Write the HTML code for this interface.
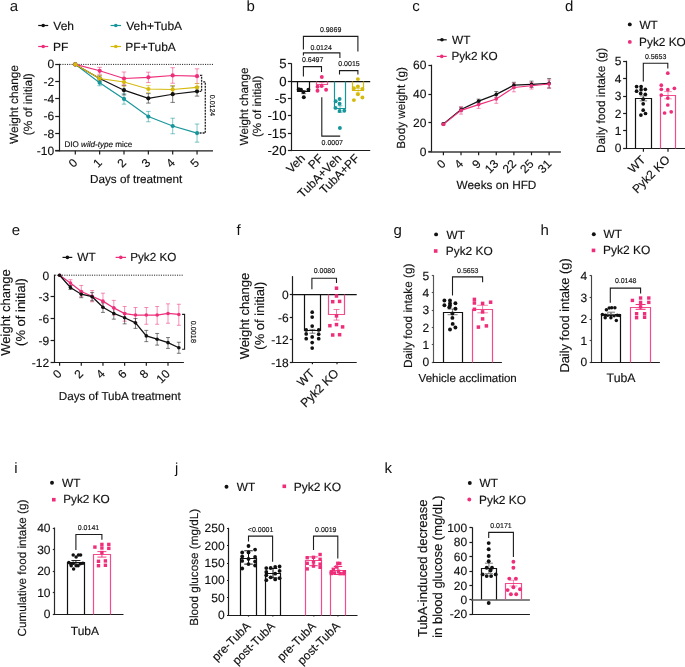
<!DOCTYPE html>
<html><head><meta charset="utf-8"><title>Figure</title>
<style>
html,body{margin:0;padding:0;background:#fff;}
body{width:685px;height:667px;overflow:hidden;}
svg{display:block;font-family:"Liberation Sans",sans-serif;will-change:transform;}
text{stroke:#111;stroke-width:0.15px;text-rendering:geometricPrecision;}
</style></head>
<body>
<svg width="685" height="667" viewBox="0 0 685 667">
<rect x="0" y="0" width="685" height="667" fill="#fff"/>
<text x="9.8" y="10.9" font-size="15" text-anchor="start" fill="#111" style="stroke-width:0">a</text>
<line x1="38.2" y1="25.5" x2="48.2" y2="25.5" stroke="#111" stroke-width="1.2"/>
<circle cx="43.2" cy="25.5" r="1.8" fill="#111"/>
<text x="53.3" y="29.6" font-size="12" text-anchor="start" fill="#111">Veh</text>
<line x1="110.6" y1="25.5" x2="121" y2="25.5" stroke="#16969B" stroke-width="1.2"/>
<circle cx="115.8" cy="25.5" r="1.8" fill="#16969B"/>
<text x="126.2" y="29.6" font-size="12" text-anchor="start" fill="#111">Veh+TubA</text>
<line x1="38.2" y1="46.5" x2="48.2" y2="46.5" stroke="#EE2E7A" stroke-width="1.2"/>
<circle cx="43.2" cy="46.5" r="1.8" fill="#EE2E7A"/>
<text x="53" y="50.8" font-size="12" text-anchor="start" fill="#111">PF</text>
<line x1="110.6" y1="46.5" x2="121" y2="46.5" stroke="#D5BA0B" stroke-width="1.2"/>
<circle cx="115.8" cy="46.5" r="1.8" fill="#D5BA0B"/>
<text x="125.3" y="50.8" font-size="12" text-anchor="start" fill="#111">PF+TubA</text>
<line x1="60.1" y1="64.4" x2="213" y2="64.4" stroke="#222" stroke-width="1.0" stroke-dasharray="1.1 1.2"/>
<line x1="59.5" y1="63.8" x2="59.5" y2="151.4" stroke="#1c1c1c" stroke-width="1.2"/>
<line x1="55.2" y1="64.5" x2="59.5" y2="64.5" stroke="#1c1c1c" stroke-width="1.2"/>
<text x="54.2" y="68.42" font-size="12" text-anchor="end" fill="#111">0</text>
<line x1="55.2" y1="81.5" x2="59.5" y2="81.5" stroke="#1c1c1c" stroke-width="1.2"/>
<text x="54.2" y="85.7" font-size="12" text-anchor="end" fill="#111">-2</text>
<line x1="55.2" y1="98.5" x2="59.5" y2="98.5" stroke="#1c1c1c" stroke-width="1.2"/>
<text x="54.2" y="102.98" font-size="12" text-anchor="end" fill="#111">-4</text>
<line x1="55.2" y1="116.5" x2="59.5" y2="116.5" stroke="#1c1c1c" stroke-width="1.2"/>
<text x="54.2" y="120.26" font-size="12" text-anchor="end" fill="#111">-6</text>
<line x1="55.2" y1="133.5" x2="59.5" y2="133.5" stroke="#1c1c1c" stroke-width="1.2"/>
<text x="54.2" y="137.54" font-size="12" text-anchor="end" fill="#111">-8</text>
<line x1="55.2" y1="150.5" x2="59.5" y2="150.5" stroke="#1c1c1c" stroke-width="1.2"/>
<text x="54.2" y="154.82" font-size="12" text-anchor="end" fill="#111">-10</text>
<line x1="55.3" y1="150.85" x2="213" y2="150.85" stroke="#1c1c1c" stroke-width="1.45"/>
<line x1="75.3" y1="150.85" x2="75.3" y2="154.45" stroke="#1c1c1c" stroke-width="1.2"/>
<line x1="99.65" y1="150.85" x2="99.65" y2="154.45" stroke="#1c1c1c" stroke-width="1.2"/>
<line x1="124" y1="150.85" x2="124" y2="154.45" stroke="#1c1c1c" stroke-width="1.2"/>
<line x1="148.35" y1="150.85" x2="148.35" y2="154.45" stroke="#1c1c1c" stroke-width="1.2"/>
<line x1="172.7" y1="150.85" x2="172.7" y2="154.45" stroke="#1c1c1c" stroke-width="1.2"/>
<line x1="197.05" y1="150.85" x2="197.05" y2="154.45" stroke="#1c1c1c" stroke-width="1.2"/>
<text transform="translate(78.3,163.6) rotate(-45)" font-size="12" text-anchor="end" fill="#111">0</text>
<text transform="translate(102.65,163.6) rotate(-45)" font-size="12" text-anchor="end" fill="#111">1</text>
<text transform="translate(127,163.6) rotate(-45)" font-size="12" text-anchor="end" fill="#111">2</text>
<text transform="translate(151.35,163.6) rotate(-45)" font-size="12" text-anchor="end" fill="#111">3</text>
<text transform="translate(175.7,163.6) rotate(-45)" font-size="12" text-anchor="end" fill="#111">4</text>
<text transform="translate(200.05,163.6) rotate(-45)" font-size="12" text-anchor="end" fill="#111">5</text>
<text x="136.2" y="183.1" font-size="11.7" text-anchor="middle" fill="#111">Days of treatment</text>
<text transform="translate(17.6,104.5) rotate(-90)" font-size="11.85" text-anchor="middle" fill="#111">Weight change</text>
<text transform="translate(31.8,104.2) rotate(-90)" font-size="11.85" text-anchor="middle" fill="#111">(% of initial)</text>
<path d="M99.65 79.69V85.74M97.4 79.69H101.9M97.4 85.74H101.9" stroke="#16969B" stroke-width="0.9" fill="none" stroke-opacity="0.6"/>
<path d="M124 93.78V104.14M121.75 93.78H126.25M121.75 104.14H126.25" stroke="#16969B" stroke-width="0.9" fill="none" stroke-opacity="0.6"/>
<path d="M148.35 111.4V121.77M146.1 111.4H150.6M146.1 121.77H150.6" stroke="#16969B" stroke-width="0.9" fill="none" stroke-opacity="0.6"/>
<path d="M172.7 118.23V133.78M170.45 118.23H174.95M170.45 133.78H174.95" stroke="#16969B" stroke-width="0.9" fill="none" stroke-opacity="0.6"/>
<path d="M197.05 124.02V142.16M194.8 124.02H199.3M194.8 142.16H199.3" stroke="#16969B" stroke-width="0.9" fill="none" stroke-opacity="0.6"/>
<path d="M99.65 75.89V81.08M97.4 75.89H101.9M97.4 81.08H101.9" stroke="#111" stroke-width="0.9" fill="none" stroke-opacity="0.6"/>
<path d="M124 85.4V94.9M121.75 85.4H126.25M121.75 94.9H126.25" stroke="#111" stroke-width="0.9" fill="none" stroke-opacity="0.6"/>
<path d="M148.35 93.6V103.11M146.1 93.6H150.6M146.1 103.11H150.6" stroke="#111" stroke-width="0.9" fill="none" stroke-opacity="0.6"/>
<path d="M172.7 86V102.42M170.45 86H174.95M170.45 102.42H174.95" stroke="#111" stroke-width="0.9" fill="none" stroke-opacity="0.6"/>
<path d="M197.05 86.6V96.11M194.8 86.6H199.3M194.8 96.11H199.3" stroke="#111" stroke-width="0.9" fill="none" stroke-opacity="0.6"/>
<path d="M99.65 67.34V74.25M97.4 67.34H101.9M97.4 74.25H101.9" stroke="#EE2E7A" stroke-width="0.9" fill="none" stroke-opacity="0.6"/>
<path d="M124 72V84.96M121.75 72H126.25M121.75 84.96H126.25" stroke="#EE2E7A" stroke-width="0.9" fill="none" stroke-opacity="0.6"/>
<path d="M148.35 72.18V82.54M146.1 72.18H150.6M146.1 82.54H150.6" stroke="#EE2E7A" stroke-width="0.9" fill="none" stroke-opacity="0.6"/>
<path d="M172.7 67.68V83.24M170.45 67.68H174.95M170.45 83.24H174.95" stroke="#EE2E7A" stroke-width="0.9" fill="none" stroke-opacity="0.6"/>
<path d="M197.05 68.81V83.49M194.8 68.81H199.3M194.8 83.49H199.3" stroke="#EE2E7A" stroke-width="0.9" fill="none" stroke-opacity="0.6"/>
<path d="M99.65 75.46V81.51M97.4 75.46H101.9M97.4 81.51H101.9" stroke="#D5BA0B" stroke-width="0.9" fill="none" stroke-opacity="0.6"/>
<path d="M124 77.71V86.35M121.75 77.71H126.25M121.75 86.35H126.25" stroke="#D5BA0B" stroke-width="0.9" fill="none" stroke-opacity="0.6"/>
<path d="M148.35 85.57V92.48M146.1 85.57H150.6M146.1 92.48H150.6" stroke="#D5BA0B" stroke-width="0.9" fill="none" stroke-opacity="0.6"/>
<path d="M172.7 85.57V93.34M170.45 85.57H174.95M170.45 93.34H174.95" stroke="#D5BA0B" stroke-width="0.9" fill="none" stroke-opacity="0.6"/>
<path d="M197.05 83.49V91.27M194.8 83.49H199.3M194.8 91.27H199.3" stroke="#D5BA0B" stroke-width="0.9" fill="none" stroke-opacity="0.6"/>
<polyline points="75.3,64.4 99.65,82.72 124,98.96 148.35,116.59 172.7,126 197.05,133.09" fill="none" stroke="#16969B" stroke-width="1.15"/>
<circle cx="75.3" cy="64.4" r="2.1" fill="#16969B"/>
<circle cx="99.65" cy="82.72" r="2.1" fill="#16969B"/>
<circle cx="124" cy="98.96" r="2.1" fill="#16969B"/>
<circle cx="148.35" cy="116.59" r="2.1" fill="#16969B"/>
<circle cx="172.7" cy="126" r="2.1" fill="#16969B"/>
<circle cx="197.05" cy="133.09" r="2.1" fill="#16969B"/>
<polyline points="75.3,64.4 99.65,78.48 124,90.15 148.35,98.36 172.7,94.21 197.05,91.36" fill="none" stroke="#111" stroke-width="1.15"/>
<circle cx="75.3" cy="64.4" r="2.1" fill="#111"/>
<circle cx="99.65" cy="78.48" r="2.1" fill="#111"/>
<circle cx="124" cy="90.15" r="2.1" fill="#111"/>
<circle cx="148.35" cy="98.36" r="2.1" fill="#111"/>
<circle cx="172.7" cy="94.21" r="2.1" fill="#111"/>
<circle cx="197.05" cy="91.36" r="2.1" fill="#111"/>
<polyline points="75.3,64.4 99.65,70.79 124,78.48 148.35,77.36 172.7,75.46 197.05,76.15" fill="none" stroke="#EE2E7A" stroke-width="1.15"/>
<circle cx="75.3" cy="64.4" r="2.1" fill="#EE2E7A"/>
<circle cx="99.65" cy="70.79" r="2.1" fill="#EE2E7A"/>
<circle cx="124" cy="78.48" r="2.1" fill="#EE2E7A"/>
<circle cx="148.35" cy="77.36" r="2.1" fill="#EE2E7A"/>
<circle cx="172.7" cy="75.46" r="2.1" fill="#EE2E7A"/>
<circle cx="197.05" cy="76.15" r="2.1" fill="#EE2E7A"/>
<polyline points="75.3,64.4 99.65,78.48 124,82.03 148.35,89.02 172.7,89.46 197.05,87.38" fill="none" stroke="#D5BA0B" stroke-width="1.15"/>
<circle cx="75.3" cy="64.4" r="2.1" fill="#D5BA0B"/>
<circle cx="99.65" cy="78.48" r="2.1" fill="#D5BA0B"/>
<circle cx="124" cy="82.03" r="2.1" fill="#D5BA0B"/>
<circle cx="148.35" cy="89.02" r="2.1" fill="#D5BA0B"/>
<circle cx="172.7" cy="89.46" r="2.1" fill="#D5BA0B"/>
<circle cx="197.05" cy="87.38" r="2.1" fill="#D5BA0B"/>
<polyline points="200,75.3 201.6,75.3 201.6,91.4 199.6,91.4" fill="none" stroke="#222" stroke-width="1.3" stroke-dasharray="2 1"/>
<polyline points="203.2,81.8 205.3,81.8 205.3,133 199.6,133" fill="none" stroke="#222" stroke-width="1.3" stroke-dasharray="2 1"/>
<text transform="translate(209.5,105.5) rotate(90)" font-size="7" text-anchor="middle" fill="#111">0.0124</text>
<text x="64.4" y="146.6" font-size="8.1" fill="#111">DIO <tspan font-style="italic">wild-type</tspan> mice</text>
<text x="246.6" y="10.9" font-size="15" text-anchor="start" fill="#111" style="stroke-width:0">b</text>
<line x1="291.5" y1="63.27" x2="291.5" y2="151.1" stroke="#1c1c1c" stroke-width="1.2"/>
<line x1="287.9" y1="63.5" x2="291.5" y2="63.5" stroke="#1c1c1c" stroke-width="1.2"/>
<text x="286.5" y="68.3" font-size="13.2" text-anchor="end" fill="#111">5</text>
<line x1="287.9" y1="81.5" x2="291.5" y2="81.5" stroke="#1c1c1c" stroke-width="1.2"/>
<text x="286.5" y="85.62" font-size="13.2" text-anchor="end" fill="#111">0</text>
<line x1="287.9" y1="98.5" x2="291.5" y2="98.5" stroke="#1c1c1c" stroke-width="1.2"/>
<text x="286.5" y="102.95" font-size="13.2" text-anchor="end" fill="#111">-5</text>
<line x1="287.9" y1="115.5" x2="291.5" y2="115.5" stroke="#1c1c1c" stroke-width="1.2"/>
<text x="286.5" y="120.27" font-size="13.2" text-anchor="end" fill="#111">-10</text>
<line x1="287.9" y1="133.5" x2="291.5" y2="133.5" stroke="#1c1c1c" stroke-width="1.2"/>
<text x="286.5" y="137.6" font-size="13.2" text-anchor="end" fill="#111">-15</text>
<line x1="287.9" y1="150.5" x2="291.5" y2="150.5" stroke="#1c1c1c" stroke-width="1.2"/>
<text x="286.5" y="154.92" font-size="13.2" text-anchor="end" fill="#111">-20</text>
<line x1="291.5" y1="81.5" x2="370.2" y2="81.5" stroke="#111" stroke-width="1.25"/>
<line x1="290.9" y1="150.5" x2="370.2" y2="150.5" stroke="#1c1c1c" stroke-width="1.2"/>
<path d="M297.5 81.5V91.5H309.5V81.5" fill="none" stroke="#111" stroke-width="1.2" stroke-linejoin="miter"/>
<circle cx="298.8" cy="89.2" r="1.95" fill="#111"/>
<circle cx="303.4" cy="92.1" r="1.95" fill="#111"/>
<circle cx="308.4" cy="89.8" r="1.95" fill="#111"/>
<circle cx="303.8" cy="97.3" r="1.95" fill="#111"/>
<circle cx="301" cy="89.6" r="1.95" fill="#111"/>
<path d="M303.7 90.56V93.67M301.2 90.56H306.2M301.2 93.67H306.2" stroke="#111" stroke-width="0.9" fill="none" stroke-opacity="0.6"/>
<path d="M316.5 81.5V84.5H327.5V81.5" fill="none" stroke="#F24C8C" stroke-width="1.2" stroke-linejoin="miter"/>
<circle cx="321.8" cy="77" r="1.95" fill="#EE2E7A"/>
<circle cx="317.5" cy="86.8" r="1.95" fill="#EE2E7A"/>
<circle cx="317.5" cy="90.8" r="1.95" fill="#EE2E7A"/>
<circle cx="326.1" cy="89.7" r="1.95" fill="#EE2E7A"/>
<circle cx="321.6" cy="86" r="1.95" fill="#EE2E7A"/>
<path d="M321.85 82.59V86.4M319.35 82.59H324.35M319.35 86.4H324.35" stroke="#EE2E7A" stroke-width="0.9" fill="none" stroke-opacity="0.6"/>
<path d="M334.5 81.5V108.5H345.5V81.5" fill="none" stroke="#16969B" stroke-width="1.2" stroke-linejoin="miter"/>
<circle cx="339.6" cy="99" r="1.95" fill="#16969B"/>
<circle cx="335.7" cy="101.3" r="1.95" fill="#16969B"/>
<circle cx="339.6" cy="103.7" r="1.95" fill="#16969B"/>
<circle cx="335.5" cy="107.9" r="1.95" fill="#16969B"/>
<circle cx="339.6" cy="111" r="1.95" fill="#16969B"/>
<circle cx="344.3" cy="110.7" r="1.95" fill="#16969B"/>
<circle cx="339.9" cy="128" r="1.95" fill="#16969B"/>
<path d="M340.05 105.8V112.39M337.55 105.8H342.55M337.55 112.39H342.55" stroke="#16969B" stroke-width="0.9" fill="none" stroke-opacity="0.6"/>
<path d="M352.5 81.5V90.5H363.5V81.5" fill="none" stroke="#D5BA0B" stroke-width="1.2" stroke-linejoin="miter"/>
<circle cx="357.9" cy="79.1" r="1.95" fill="#D5BA0B"/>
<circle cx="357.9" cy="86.4" r="1.95" fill="#D5BA0B"/>
<circle cx="353.9" cy="88.2" r="1.95" fill="#D5BA0B"/>
<circle cx="362.4" cy="88.9" r="1.95" fill="#D5BA0B"/>
<circle cx="357.9" cy="94.2" r="1.95" fill="#D5BA0B"/>
<circle cx="362.4" cy="97.5" r="1.95" fill="#D5BA0B"/>
<circle cx="353.9" cy="100.1" r="1.95" fill="#D5BA0B"/>
<path d="M358.1 88.48V92.98M355.6 88.48H360.6M355.6 92.98H360.6" stroke="#D5BA0B" stroke-width="0.9" fill="none" stroke-opacity="0.6"/>
<polyline points="303.4,49.6 303.4,36.4 357.9,36.4 357.9,51.5" fill="none" stroke="#1c1c1c" stroke-width="1.1"/>
<text x="330.6" y="31.8" font-size="7" text-anchor="middle" fill="#111">0.9869</text>
<polyline points="303.4,55.5 303.4,52.9 339.9,52.9 339.9,58.1" fill="none" stroke="#1c1c1c" stroke-width="1.1"/>
<text x="321.1" y="50.2" font-size="7" text-anchor="middle" fill="#111">0.0124</text>
<polyline points="303.4,76.5 303.4,66.6 321.5,66.6 321.5,71.9" fill="none" stroke="#1c1c1c" stroke-width="1.1"/>
<text x="312.7" y="62" font-size="7" text-anchor="middle" fill="#111">0.6497</text>
<polyline points="339.5,74.5 339.5,70.6 357.9,70.6 357.9,74.5" fill="none" stroke="#1c1c1c" stroke-width="1.1"/>
<text x="349" y="65.7" font-size="7" text-anchor="middle" fill="#111">0.0015</text>
<polyline points="321.8,97.3 321.8,136.1 340.2,136.1" fill="none" stroke="#1c1c1c" stroke-width="1.1"/>
<text x="332.3" y="144.6" font-size="7" text-anchor="middle" fill="#111">0.0007</text>
<text transform="translate(305.8,159) rotate(-45)" font-size="12.0" text-anchor="end" fill="#111">Veh</text>
<text transform="translate(323.95,159) rotate(-45)" font-size="12.0" text-anchor="end" fill="#111">PF</text>
<text transform="translate(342.15,159) rotate(-45)" font-size="12.0" text-anchor="end" fill="#111">TubA+Veh</text>
<text transform="translate(360.2,159) rotate(-45)" font-size="12.0" text-anchor="end" fill="#111">TubA+PF</text>
<text transform="translate(247.9,106.5) rotate(-90)" font-size="11.7" text-anchor="middle" fill="#111">Weight change</text>
<text transform="translate(261,106.5) rotate(-90)" font-size="11.7" text-anchor="middle" fill="#111">(% of initial)</text>
<text x="412.2" y="10.9" font-size="15" text-anchor="start" fill="#111" style="stroke-width:0">c</text>
<line x1="437.2" y1="39.8" x2="446.7" y2="39.8" stroke="#111" stroke-width="1.2"/>
<circle cx="441.95" cy="39.8" r="1.8" fill="#111"/>
<text x="452.1" y="43.8" font-size="11.8" text-anchor="start" fill="#111">WT</text>
<line x1="436.8" y1="56.4" x2="446.7" y2="56.4" stroke="#EE2E7A" stroke-width="1.2"/>
<circle cx="441.75" cy="56.4" r="1.8" fill="#EE2E7A"/>
<text x="451.4" y="60.4" font-size="11.75" text-anchor="start" fill="#111">Pyk2 KO</text>
<line x1="431.5" y1="64.7" x2="431.5" y2="152.3" stroke="#1c1c1c" stroke-width="1.2"/>
<line x1="428.4" y1="65.5" x2="431.5" y2="65.5" stroke="#1c1c1c" stroke-width="1.2"/>
<text x="426.4" y="69.32" font-size="12" text-anchor="end" fill="#111">60</text>
<line x1="428.4" y1="94.5" x2="431.5" y2="94.5" stroke="#1c1c1c" stroke-width="1.2"/>
<text x="426.4" y="98.12" font-size="12" text-anchor="end" fill="#111">40</text>
<line x1="428.4" y1="122.5" x2="431.5" y2="122.5" stroke="#1c1c1c" stroke-width="1.2"/>
<text x="426.4" y="126.92" font-size="12" text-anchor="end" fill="#111">20</text>
<line x1="428.4" y1="151.5" x2="431.5" y2="151.5" stroke="#1c1c1c" stroke-width="1.2"/>
<text x="426.4" y="155.72" font-size="12" text-anchor="end" fill="#111">0</text>
<line x1="428.3" y1="152" x2="560.9" y2="152" stroke="#3a3a3a" stroke-width="1.55"/>
<line x1="443.4" y1="152" x2="443.4" y2="155.3" stroke="#1c1c1c" stroke-width="1.2"/>
<line x1="461.02" y1="152" x2="461.02" y2="155.3" stroke="#1c1c1c" stroke-width="1.2"/>
<line x1="478.64" y1="152" x2="478.64" y2="155.3" stroke="#1c1c1c" stroke-width="1.2"/>
<line x1="496.26" y1="152" x2="496.26" y2="155.3" stroke="#1c1c1c" stroke-width="1.2"/>
<line x1="513.88" y1="152" x2="513.88" y2="155.3" stroke="#1c1c1c" stroke-width="1.2"/>
<line x1="531.5" y1="152" x2="531.5" y2="155.3" stroke="#1c1c1c" stroke-width="1.2"/>
<line x1="549.12" y1="152" x2="549.12" y2="155.3" stroke="#1c1c1c" stroke-width="1.2"/>
<text transform="translate(446.4,164.6) rotate(-45)" font-size="12" text-anchor="end" fill="#111">0</text>
<text transform="translate(464.02,164.6) rotate(-45)" font-size="12" text-anchor="end" fill="#111">4</text>
<text transform="translate(481.64,164.6) rotate(-45)" font-size="12" text-anchor="end" fill="#111">9</text>
<text transform="translate(499.26,164.6) rotate(-45)" font-size="12" text-anchor="end" fill="#111">13</text>
<text transform="translate(516.88,164.6) rotate(-45)" font-size="12" text-anchor="end" fill="#111">22</text>
<text transform="translate(534.5,164.6) rotate(-45)" font-size="12" text-anchor="end" fill="#111">25</text>
<text transform="translate(552.12,164.6) rotate(-45)" font-size="12" text-anchor="end" fill="#111">31</text>
<text x="496.5" y="188.9" font-size="11.8" text-anchor="middle" fill="#111">Weeks on HFD</text>
<text transform="translate(404.8,107.9) rotate(-90)" font-size="11.76" text-anchor="middle" fill="#111">Body weight (g)</text>
<path d="M443.4 123.04V124.77M441.4 123.04H445.4M441.4 124.77H445.4" stroke="#111" stroke-width="0.9" fill="none" stroke-opacity="0.6"/>
<path d="M461.02 107.35V111.67M459.02 107.35H463.02M459.02 111.67H463.02" stroke="#111" stroke-width="0.9" fill="none" stroke-opacity="0.6"/>
<path d="M478.64 99.14V103.17M476.64 99.14H480.64M476.64 103.17H480.64" stroke="#111" stroke-width="0.9" fill="none" stroke-opacity="0.6"/>
<path d="M496.26 91.51V97.27M494.26 91.51H498.26M494.26 97.27H498.26" stroke="#111" stroke-width="0.9" fill="none" stroke-opacity="0.6"/>
<path d="M513.88 82.29V88.05M511.88 82.29H515.88M511.88 88.05H515.88" stroke="#111" stroke-width="0.9" fill="none" stroke-opacity="0.6"/>
<path d="M531.5 81.14V87.48M529.5 81.14H533.5M529.5 87.48H533.5" stroke="#111" stroke-width="0.9" fill="none" stroke-opacity="0.6"/>
<path d="M549.12 78.55V88.05M547.12 78.55H551.12M547.12 88.05H551.12" stroke="#111" stroke-width="0.9" fill="none" stroke-opacity="0.6"/>
<path d="M443.4 123.48V125.2M441.4 123.48H445.4M441.4 125.2H445.4" stroke="#EE2E7A" stroke-width="0.9" fill="none" stroke-opacity="0.6"/>
<path d="M461.02 106.63V114.12M459.02 106.63H463.02M459.02 114.12H463.02" stroke="#EE2E7A" stroke-width="0.9" fill="none" stroke-opacity="0.6"/>
<path d="M478.64 100.87V108.36M476.64 100.87H480.64M476.64 108.36H480.64" stroke="#EE2E7A" stroke-width="0.9" fill="none" stroke-opacity="0.6"/>
<path d="M496.26 94.68V103.32M494.26 94.68H498.26M494.26 103.32H498.26" stroke="#EE2E7A" stroke-width="0.9" fill="none" stroke-opacity="0.6"/>
<path d="M513.88 83.16V91.8M511.88 83.16H515.88M511.88 91.8H515.88" stroke="#EE2E7A" stroke-width="0.9" fill="none" stroke-opacity="0.6"/>
<path d="M531.5 82.44V89.06M529.5 82.44H533.5M529.5 89.06H533.5" stroke="#EE2E7A" stroke-width="0.9" fill="none" stroke-opacity="0.6"/>
<path d="M549.12 79.99V88.05M547.12 79.99H551.12M547.12 88.05H551.12" stroke="#EE2E7A" stroke-width="0.9" fill="none" stroke-opacity="0.6"/>
<polyline points="443.4,123.91 461.02,109.51 478.64,101.16 496.26,94.39 513.88,85.17 531.5,84.31 549.12,83.3" fill="none" stroke="#111" stroke-width="1.2"/>
<circle cx="443.4" cy="123.91" r="1.8" fill="#111"/>
<circle cx="461.02" cy="109.51" r="1.8" fill="#111"/>
<circle cx="478.64" cy="101.16" r="1.8" fill="#111"/>
<circle cx="496.26" cy="94.39" r="1.8" fill="#111"/>
<circle cx="513.88" cy="85.17" r="1.8" fill="#111"/>
<circle cx="531.5" cy="84.31" r="1.8" fill="#111"/>
<circle cx="549.12" cy="83.3" r="1.8" fill="#111"/>
<polyline points="443.4,124.34 461.02,110.37 478.64,104.61 496.26,99 513.88,87.48 531.5,85.75 549.12,84.02" fill="none" stroke="#EE2E7A" stroke-width="1.15"/>
<circle cx="443.4" cy="124.34" r="1.8" fill="#EE2E7A"/>
<circle cx="461.02" cy="110.37" r="1.8" fill="#EE2E7A"/>
<circle cx="478.64" cy="104.61" r="1.8" fill="#EE2E7A"/>
<circle cx="496.26" cy="99" r="1.8" fill="#EE2E7A"/>
<circle cx="513.88" cy="87.48" r="1.8" fill="#EE2E7A"/>
<circle cx="531.5" cy="85.75" r="1.8" fill="#EE2E7A"/>
<circle cx="549.12" cy="84.02" r="1.8" fill="#EE2E7A"/>
<text x="565" y="10.9" font-size="15" text-anchor="start" fill="#111" style="stroke-width:0">d</text>
<circle cx="629.8" cy="24.4" r="1.95" fill="#111"/>
<text x="639.4" y="28.7" font-size="11.8" text-anchor="start" fill="#111">WT</text>
<circle cx="629.8" cy="41.9" r="1.95" fill="#EE2E7A"/>
<text x="639.1" y="45.6" font-size="11.85" text-anchor="start" fill="#111">Pyk2 KO</text>
<line x1="626.5" y1="60.8" x2="626.5" y2="148.8" stroke="#1c1c1c" stroke-width="1.2"/>
<line x1="623.1" y1="61.5" x2="626.5" y2="61.5" stroke="#1c1c1c" stroke-width="1.2"/>
<text x="621.5" y="65.42" font-size="12" text-anchor="end" fill="#111">5</text>
<line x1="623.1" y1="78.5" x2="626.5" y2="78.5" stroke="#1c1c1c" stroke-width="1.2"/>
<text x="621.5" y="82.78" font-size="12" text-anchor="end" fill="#111">4</text>
<line x1="623.1" y1="96.5" x2="626.5" y2="96.5" stroke="#1c1c1c" stroke-width="1.2"/>
<text x="621.5" y="100.14" font-size="12" text-anchor="end" fill="#111">3</text>
<line x1="623.1" y1="113.5" x2="626.5" y2="113.5" stroke="#1c1c1c" stroke-width="1.2"/>
<text x="621.5" y="117.5" font-size="12" text-anchor="end" fill="#111">2</text>
<line x1="623.1" y1="130.5" x2="626.5" y2="130.5" stroke="#1c1c1c" stroke-width="1.2"/>
<text x="621.5" y="134.86" font-size="12" text-anchor="end" fill="#111">1</text>
<line x1="623.1" y1="148.5" x2="626.5" y2="148.5" stroke="#1c1c1c" stroke-width="1.2"/>
<text x="621.5" y="152.22" font-size="12" text-anchor="end" fill="#111">0</text>
<line x1="625.9" y1="148.5" x2="685" y2="148.5" stroke="#1c1c1c" stroke-width="1.2"/>
<line x1="643.4" y1="148.2" x2="643.4" y2="151.7" stroke="#1c1c1c" stroke-width="1.2"/>
<line x1="668" y1="148.2" x2="668" y2="151.7" stroke="#1c1c1c" stroke-width="1.2"/>
<path d="M635.5 148.5V98.5H651.5V148.5" fill="none" stroke="#111" stroke-width="1.2" stroke-linejoin="miter"/>
<path d="M660.5 148.5V95.5H675.5V148.5" fill="none" stroke="#F24C8C" stroke-width="1.2" stroke-linejoin="miter"/>
<circle cx="636.6" cy="86.6" r="1.85" fill="#111"/>
<circle cx="641.1" cy="86.6" r="1.85" fill="#111"/>
<circle cx="636.6" cy="91.2" r="1.85" fill="#111"/>
<circle cx="641.1" cy="89.7" r="1.85" fill="#111"/>
<circle cx="645.3" cy="89.3" r="1.85" fill="#111"/>
<circle cx="640.7" cy="93.4" r="1.85" fill="#111"/>
<circle cx="645.3" cy="94.3" r="1.85" fill="#111"/>
<circle cx="643.2" cy="99.2" r="1.85" fill="#111"/>
<circle cx="643.2" cy="103.8" r="1.85" fill="#111"/>
<circle cx="643.2" cy="110.2" r="1.85" fill="#111"/>
<circle cx="645.5" cy="113.5" r="1.85" fill="#111"/>
<circle cx="640.9" cy="115.1" r="1.85" fill="#111"/>
<circle cx="667.8" cy="73.2" r="1.85" fill="#EE2E7A"/>
<circle cx="661.3" cy="85.2" r="1.85" fill="#EE2E7A"/>
<circle cx="661.3" cy="89.3" r="1.85" fill="#EE2E7A"/>
<circle cx="667.8" cy="89.7" r="1.85" fill="#EE2E7A"/>
<circle cx="674.4" cy="88.3" r="1.85" fill="#EE2E7A"/>
<circle cx="661.3" cy="95.1" r="1.85" fill="#EE2E7A"/>
<circle cx="667.8" cy="98.1" r="1.85" fill="#EE2E7A"/>
<circle cx="667.8" cy="105" r="1.85" fill="#EE2E7A"/>
<circle cx="664.6" cy="113" r="1.85" fill="#EE2E7A"/>
<circle cx="671.2" cy="111.8" r="1.85" fill="#EE2E7A"/>
<path d="M643.4 95.9V100.9M639.65 95.9H647.15M639.65 100.9H647.15" stroke="#111" stroke-width="0.9" fill="none" stroke-opacity="0.6"/>
<path d="M668 91.6V98.8M664.25 91.6H671.75M664.25 98.8H671.75" stroke="#EE2E7A" stroke-width="0.9" fill="none" stroke-opacity="0.6"/>
<polyline points="643.3,81.5 643.3,63.3 667.8,63.3 667.8,68.5" fill="none" stroke="#1c1c1c" stroke-width="1.1"/>
<text x="655.6" y="59.2" font-size="7" text-anchor="middle" fill="#111">0.5653</text>
<text transform="translate(646.2,160.5) rotate(-45)" font-size="12" text-anchor="end" fill="#111">WT</text>
<text transform="translate(670.7,160.5) rotate(-45)" font-size="12" text-anchor="end" fill="#111">Pyk2 KO</text>
<text transform="translate(604.8,100.5) rotate(-90)" font-size="11.83" text-anchor="middle" fill="#111">Daily food intake (g)</text>
<text x="11.8" y="234.6" font-size="15" text-anchor="start" fill="#111" style="stroke-width:0">e</text>
<line x1="62.5" y1="257.4" x2="72.3" y2="257.4" stroke="#111" stroke-width="1.2"/>
<circle cx="67.4" cy="257.4" r="1.8" fill="#111"/>
<text x="77.3" y="260.9" font-size="11.8" text-anchor="start" fill="#111">WT</text>
<line x1="115.6" y1="257.4" x2="126" y2="257.4" stroke="#EE2E7A" stroke-width="1.2"/>
<circle cx="120.8" cy="257.4" r="1.8" fill="#EE2E7A"/>
<text x="130.2" y="260.9" font-size="11.7" text-anchor="start" fill="#111">Pyk2 KO</text>
<line x1="55.1" y1="275.2" x2="183.9" y2="275.2" stroke="#222" stroke-width="1.0" stroke-dasharray="1.1 1.2"/>
<line x1="54.5" y1="274.6" x2="54.5" y2="362.92" stroke="#1c1c1c" stroke-width="1.2"/>
<text x="49.1" y="279.52" font-size="12" text-anchor="end" fill="#111">0</text>
<line x1="50.6" y1="296.5" x2="54.5" y2="296.5" stroke="#1c1c1c" stroke-width="1.2"/>
<text x="49.1" y="301.3" font-size="12" text-anchor="end" fill="#111">-3</text>
<line x1="50.6" y1="318.5" x2="54.5" y2="318.5" stroke="#1c1c1c" stroke-width="1.2"/>
<text x="49.1" y="323.08" font-size="12" text-anchor="end" fill="#111">-6</text>
<line x1="50.6" y1="340.5" x2="54.5" y2="340.5" stroke="#1c1c1c" stroke-width="1.2"/>
<text x="49.1" y="344.86" font-size="12" text-anchor="end" fill="#111">-9</text>
<line x1="50.6" y1="362.5" x2="54.5" y2="362.5" stroke="#1c1c1c" stroke-width="1.2"/>
<text x="49.1" y="366.64" font-size="12" text-anchor="end" fill="#111">-12</text>
<line x1="53.9" y1="362.5" x2="183.9" y2="362.5" stroke="#1c1c1c" stroke-width="1.2"/>
<line x1="59.6" y1="362.32" x2="59.6" y2="365.82" stroke="#1c1c1c" stroke-width="1.2"/>
<line x1="81.28" y1="362.32" x2="81.28" y2="365.82" stroke="#1c1c1c" stroke-width="1.2"/>
<line x1="102.96" y1="362.32" x2="102.96" y2="365.82" stroke="#1c1c1c" stroke-width="1.2"/>
<line x1="124.64" y1="362.32" x2="124.64" y2="365.82" stroke="#1c1c1c" stroke-width="1.2"/>
<line x1="146.32" y1="362.32" x2="146.32" y2="365.82" stroke="#1c1c1c" stroke-width="1.2"/>
<line x1="168" y1="362.32" x2="168" y2="365.82" stroke="#1c1c1c" stroke-width="1.2"/>
<text transform="translate(62.4,374.6) rotate(-45)" font-size="12" text-anchor="end" fill="#111">0</text>
<text transform="translate(84.08,374.6) rotate(-45)" font-size="12" text-anchor="end" fill="#111">2</text>
<text transform="translate(105.76,374.6) rotate(-45)" font-size="12" text-anchor="end" fill="#111">4</text>
<text transform="translate(127.44,374.6) rotate(-45)" font-size="12" text-anchor="end" fill="#111">6</text>
<text transform="translate(149.12,374.6) rotate(-45)" font-size="12" text-anchor="end" fill="#111">8</text>
<text transform="translate(170.8,374.6) rotate(-45)" font-size="12" text-anchor="end" fill="#111">10</text>
<text x="119.8" y="399.9" font-size="11.7" text-anchor="middle" fill="#111">Days of TubA treatment</text>
<text transform="translate(10,312.5) rotate(-90)" font-size="13.0" text-anchor="middle" fill="#111">Weight change</text>
<text transform="translate(25.2,312) rotate(-90)" font-size="13.0" text-anchor="middle" fill="#111">(% of initial)</text>
<path d="M70.44 279.71V285.44M68.44 279.71H72.44M68.44 285.44H72.44" stroke="#EE2E7A" stroke-width="0.9" fill="none" stroke-opacity="0.6"/>
<path d="M81.28 285.44V296.68M79.28 285.44H83.28M79.28 296.68H83.28" stroke="#EE2E7A" stroke-width="0.9" fill="none" stroke-opacity="0.6"/>
<path d="M92.12 290.55V301.79M90.12 290.55H94.12M90.12 301.79H94.12" stroke="#EE2E7A" stroke-width="0.9" fill="none" stroke-opacity="0.6"/>
<path d="M102.96 293.2V307.92M100.96 293.2H104.96M100.96 307.92H104.96" stroke="#EE2E7A" stroke-width="0.9" fill="none" stroke-opacity="0.6"/>
<path d="M113.8 300.36V315.07M111.8 300.36H115.8M111.8 315.07H115.8" stroke="#EE2E7A" stroke-width="0.9" fill="none" stroke-opacity="0.6"/>
<path d="M124.64 306.49V321.2M122.64 306.49H126.64M122.64 321.2H126.64" stroke="#EE2E7A" stroke-width="0.9" fill="none" stroke-opacity="0.6"/>
<path d="M135.48 307.51V323.25M133.48 307.51H137.48M133.48 323.25H137.48" stroke="#EE2E7A" stroke-width="0.9" fill="none" stroke-opacity="0.6"/>
<path d="M146.32 307.51V324.27M144.32 307.51H148.32M144.32 324.27H148.32" stroke="#EE2E7A" stroke-width="0.9" fill="none" stroke-opacity="0.6"/>
<path d="M157.16 306.49V324.27M155.16 306.49H159.16M155.16 324.27H159.16" stroke="#EE2E7A" stroke-width="0.9" fill="none" stroke-opacity="0.6"/>
<path d="M168 303.83V323.25M166 303.83H170M166 323.25H170" stroke="#EE2E7A" stroke-width="0.9" fill="none" stroke-opacity="0.6"/>
<path d="M178.84 304.24V325.29M176.84 304.24H180.84M176.84 325.29H180.84" stroke="#EE2E7A" stroke-width="0.9" fill="none" stroke-opacity="0.6"/>
<path d="M70.44 285.44V289.52M68.44 285.44H72.44M68.44 289.52H72.44" stroke="#111" stroke-width="0.9" fill="none" stroke-opacity="0.6"/>
<path d="M81.28 291.16V297.7M79.28 291.16H83.28M79.28 297.7H83.28" stroke="#111" stroke-width="0.9" fill="none" stroke-opacity="0.6"/>
<path d="M92.12 292.59V300.77M90.12 292.59H94.12M90.12 300.77H94.12" stroke="#111" stroke-width="0.9" fill="none" stroke-opacity="0.6"/>
<path d="M102.96 302.81V312.41M100.96 302.81H104.96M100.96 312.41H104.96" stroke="#111" stroke-width="0.9" fill="none" stroke-opacity="0.6"/>
<path d="M113.8 307.92V319.16M111.8 307.92H115.8M111.8 319.16H115.8" stroke="#111" stroke-width="0.9" fill="none" stroke-opacity="0.6"/>
<path d="M124.64 313.03V323.86M122.64 313.03H126.64M122.64 323.86H126.64" stroke="#111" stroke-width="0.9" fill="none" stroke-opacity="0.6"/>
<path d="M135.48 318.55V328.36M133.48 318.55H137.48M133.48 328.36H137.48" stroke="#111" stroke-width="0.9" fill="none" stroke-opacity="0.6"/>
<path d="M146.32 330.4V341.64M144.32 330.4H148.32M144.32 341.64H148.32" stroke="#111" stroke-width="0.9" fill="none" stroke-opacity="0.6"/>
<path d="M157.16 333.47V345.11M155.16 333.47H159.16M155.16 345.11H159.16" stroke="#111" stroke-width="0.9" fill="none" stroke-opacity="0.6"/>
<path d="M168 337.55V348.38M166 337.55H170M166 348.38H170" stroke="#111" stroke-width="0.9" fill="none" stroke-opacity="0.6"/>
<path d="M178.84 342.25V353.29M176.84 342.25H180.84M176.84 353.29H180.84" stroke="#111" stroke-width="0.9" fill="none" stroke-opacity="0.6"/>
<polyline points="59.6,275.22 70.44,282.98 81.28,291.57 92.12,296.27 102.96,301.17 113.8,307.92 124.64,313.64 135.48,315.07 146.32,315.07 157.16,315.07 168,313.44 178.84,314.46" fill="none" stroke="#EE2E7A" stroke-width="1.25"/>
<circle cx="59.6" cy="275.22" r="1.8" fill="#EE2E7A"/>
<circle cx="70.44" cy="282.98" r="1.8" fill="#EE2E7A"/>
<circle cx="81.28" cy="291.57" r="1.8" fill="#EE2E7A"/>
<circle cx="92.12" cy="296.27" r="1.8" fill="#EE2E7A"/>
<circle cx="102.96" cy="301.17" r="1.8" fill="#EE2E7A"/>
<circle cx="113.8" cy="307.92" r="1.8" fill="#EE2E7A"/>
<circle cx="124.64" cy="313.64" r="1.8" fill="#EE2E7A"/>
<circle cx="135.48" cy="315.07" r="1.8" fill="#EE2E7A"/>
<circle cx="146.32" cy="315.07" r="1.8" fill="#EE2E7A"/>
<circle cx="157.16" cy="315.07" r="1.8" fill="#EE2E7A"/>
<circle cx="168" cy="313.44" r="1.8" fill="#EE2E7A"/>
<circle cx="178.84" cy="314.46" r="1.8" fill="#EE2E7A"/>
<polyline points="59.6,275.22 70.44,287.48 81.28,294.23 92.12,296.68 102.96,307.31 113.8,313.44 124.64,317.73 135.48,322.84 146.32,335.92 157.16,339.19 168,342.66 178.84,347.77" fill="none" stroke="#111" stroke-width="1.25"/>
<circle cx="59.6" cy="275.22" r="1.8" fill="#111"/>
<circle cx="70.44" cy="287.48" r="1.8" fill="#111"/>
<circle cx="81.28" cy="294.23" r="1.8" fill="#111"/>
<circle cx="92.12" cy="296.68" r="1.8" fill="#111"/>
<circle cx="102.96" cy="307.31" r="1.8" fill="#111"/>
<circle cx="113.8" cy="313.44" r="1.8" fill="#111"/>
<circle cx="124.64" cy="317.73" r="1.8" fill="#111"/>
<circle cx="135.48" cy="322.84" r="1.8" fill="#111"/>
<circle cx="146.32" cy="335.92" r="1.8" fill="#111"/>
<circle cx="157.16" cy="339.19" r="1.8" fill="#111"/>
<circle cx="168" cy="342.66" r="1.8" fill="#111"/>
<circle cx="178.84" cy="347.77" r="1.8" fill="#111"/>
<polyline points="182.1,314.4 184.6,314.4 184.6,349.2 182.1,349.2" fill="none" stroke="#1c1c1c" stroke-width="1.1"/>
<text transform="translate(190.6,331.8) rotate(90)" font-size="7.3" text-anchor="middle" fill="#111">0.0018</text>
<text x="236.4" y="234.6" font-size="15" text-anchor="start" fill="#111" style="stroke-width:0">f</text>
<line x1="292.5" y1="276.1" x2="292.5" y2="362.98" stroke="#1c1c1c" stroke-width="1.2"/>
<line x1="289.8" y1="294.5" x2="292.5" y2="294.5" stroke="#1c1c1c" stroke-width="1.2"/>
<text x="288.7" y="299" font-size="12" text-anchor="end" fill="#111">0</text>
<line x1="289.8" y1="317.5" x2="292.5" y2="317.5" stroke="#1c1c1c" stroke-width="1.2"/>
<text x="288.7" y="321.56" font-size="12" text-anchor="end" fill="#111">-6</text>
<line x1="289.8" y1="339.5" x2="292.5" y2="339.5" stroke="#1c1c1c" stroke-width="1.2"/>
<text x="288.7" y="344.12" font-size="12" text-anchor="end" fill="#111">-12</text>
<line x1="289.8" y1="362.5" x2="292.5" y2="362.5" stroke="#1c1c1c" stroke-width="1.2"/>
<text x="288.7" y="366.68" font-size="12" text-anchor="end" fill="#111">-18</text>
<line x1="292.5" y1="294.5" x2="356.7" y2="294.5" stroke="#111" stroke-width="1.25"/>
<line x1="291.9" y1="362.5" x2="356.7" y2="362.5" stroke="#1c1c1c" stroke-width="1.2"/>
<line x1="312.4" y1="362.38" x2="312.4" y2="364.18" stroke="#1c1c1c" stroke-width="1.2"/>
<line x1="337" y1="362.38" x2="337" y2="364.18" stroke="#1c1c1c" stroke-width="1.2"/>
<path d="M304.5 294.5V330.5H320.5V294.5" fill="none" stroke="#111" stroke-width="1.2" stroke-linejoin="miter"/>
<path d="M328.5 294.5V314.5H344.5V294.5" fill="none" stroke="#F24C8C" stroke-width="1.2" stroke-linejoin="miter"/>
<circle cx="312.2" cy="312.2" r="1.85" fill="#111"/>
<circle cx="312.2" cy="317.1" r="1.85" fill="#111"/>
<circle cx="312.2" cy="326.1" r="1.85" fill="#111"/>
<circle cx="306.2" cy="329.9" r="1.85" fill="#111"/>
<circle cx="318.7" cy="329.9" r="1.85" fill="#111"/>
<circle cx="306.2" cy="333.9" r="1.85" fill="#111"/>
<circle cx="318.7" cy="334.2" r="1.85" fill="#111"/>
<circle cx="306.2" cy="338.7" r="1.85" fill="#111"/>
<circle cx="312.2" cy="336.9" r="1.85" fill="#111"/>
<circle cx="318.7" cy="338.7" r="1.85" fill="#111"/>
<circle cx="312.2" cy="342.6" r="1.85" fill="#111"/>
<circle cx="312.2" cy="348.1" r="1.85" fill="#111"/>
<rect x="334.75" y="286.45" width="3.5" height="3.5" fill="#EE2E7A"/>
<rect x="334.75" y="294.25" width="3.5" height="3.5" fill="#EE2E7A"/>
<rect x="330.95" y="299.95" width="3.5" height="3.5" fill="#EE2E7A"/>
<rect x="337.85" y="299.65" width="3.5" height="3.5" fill="#EE2E7A"/>
<rect x="334.75" y="314.15" width="3.5" height="3.5" fill="#EE2E7A"/>
<rect x="328.15" y="323.95" width="3.5" height="3.5" fill="#EE2E7A"/>
<rect x="334.75" y="322.85" width="3.5" height="3.5" fill="#EE2E7A"/>
<rect x="340.85" y="325.15" width="3.5" height="3.5" fill="#EE2E7A"/>
<rect x="330.95" y="333.25" width="3.5" height="3.5" fill="#EE2E7A"/>
<rect x="337.85" y="332.95" width="3.5" height="3.5" fill="#EE2E7A"/>
<path d="M312.4 329.4V333.2M309.4 329.4H315.4M309.4 333.2H315.4" stroke="#111" stroke-width="0.9" fill="none" stroke-opacity="0.6"/>
<path d="M336.5 309.5V320.1M333.5 309.5H339.5M333.5 320.1H339.5" stroke="#EE2E7A" stroke-width="0.9" fill="none" stroke-opacity="0.7"/>
<polyline points="311.9,289.3 311.9,278.2 336.5,278.2 336.5,283" fill="none" stroke="#1c1c1c" stroke-width="1.1"/>
<text x="324.4" y="273.2" font-size="7" text-anchor="middle" fill="#111">0.0080</text>
<text transform="translate(315.2,374) rotate(-45)" font-size="12.1" text-anchor="end" fill="#111">WT</text>
<text transform="translate(339.5,374) rotate(-45)" font-size="12.2" text-anchor="end" fill="#111">Pyk2 KO</text>
<text transform="translate(249.1,316) rotate(-90)" font-size="13.0" text-anchor="middle" fill="#111">Weight change</text>
<text transform="translate(264.4,315.7) rotate(-90)" font-size="13.0" text-anchor="middle" fill="#111">(% of initial)</text>
<text x="393.6" y="234.8" font-size="15" text-anchor="start" fill="#111" style="stroke-width:0">g</text>
<circle cx="436.1" cy="234.4" r="1.95" fill="#111"/>
<text x="446.5" y="238.5" font-size="11.8" text-anchor="start" fill="#111">WT</text>
<rect x="433.9" y="249.2" width="3.6" height="3.6" fill="#EE2E7A"/>
<text x="445.8" y="254.8" font-size="11.9" text-anchor="start" fill="#111">Pyk2 KO</text>
<line x1="433.5" y1="275.1" x2="433.5" y2="362.8" stroke="#555" stroke-width="1.15"/>
<line x1="431.8" y1="275.5" x2="433.5" y2="275.5" stroke="#555" stroke-width="1.15"/>
<text x="429.2" y="279.72" font-size="12" text-anchor="end" fill="#111">5</text>
<line x1="431.8" y1="292.5" x2="433.5" y2="292.5" stroke="#555" stroke-width="1.15"/>
<text x="429.2" y="297.02" font-size="12" text-anchor="end" fill="#111">4</text>
<line x1="431.8" y1="310.5" x2="433.5" y2="310.5" stroke="#555" stroke-width="1.15"/>
<text x="429.2" y="314.32" font-size="12" text-anchor="end" fill="#111">3</text>
<line x1="431.8" y1="327.5" x2="433.5" y2="327.5" stroke="#555" stroke-width="1.15"/>
<text x="429.2" y="331.62" font-size="12" text-anchor="end" fill="#111">2</text>
<line x1="431.8" y1="344.5" x2="433.5" y2="344.5" stroke="#555" stroke-width="1.15"/>
<text x="429.2" y="348.92" font-size="12" text-anchor="end" fill="#111">1</text>
<line x1="431.8" y1="362.5" x2="433.5" y2="362.5" stroke="#555" stroke-width="1.15"/>
<text x="429.2" y="366.22" font-size="12" text-anchor="end" fill="#111">0</text>
<line x1="432.9" y1="362.5" x2="501.9" y2="362.5" stroke="#1c1c1c" stroke-width="1.2"/>
<path d="M443.5 362.5V312.5H462.5V362.5" fill="none" stroke="#111" stroke-width="1.2" stroke-linejoin="miter"/>
<path d="M472.5 362.5V309.5H492.5V362.5" fill="none" stroke="#F24C8C" stroke-width="1.2" stroke-linejoin="miter"/>
<circle cx="444.4" cy="300.5" r="1.95" fill="#111"/>
<circle cx="450" cy="300.5" r="1.95" fill="#111"/>
<circle cx="444.4" cy="305.3" r="1.95" fill="#111"/>
<circle cx="450" cy="303.4" r="1.95" fill="#111"/>
<circle cx="450" cy="305.6" r="1.95" fill="#111"/>
<circle cx="455.4" cy="303.3" r="1.95" fill="#111"/>
<circle cx="449.3" cy="307.3" r="1.95" fill="#111"/>
<circle cx="455.4" cy="308.7" r="1.95" fill="#111"/>
<circle cx="452.4" cy="313.5" r="1.95" fill="#111"/>
<circle cx="452.4" cy="317.9" r="1.95" fill="#111"/>
<circle cx="452.7" cy="323.9" r="1.95" fill="#111"/>
<circle cx="455.4" cy="327.5" r="1.95" fill="#111"/>
<circle cx="450" cy="329.5" r="1.95" fill="#111"/>
<rect x="472.65" y="297.65" width="3.5" height="3.5" fill="#EE2E7A"/>
<rect x="472.65" y="301.25" width="3.5" height="3.5" fill="#EE2E7A"/>
<rect x="480.85" y="301.65" width="3.5" height="3.5" fill="#EE2E7A"/>
<rect x="488.85" y="300.45" width="3.5" height="3.5" fill="#EE2E7A"/>
<rect x="472.65" y="307.55" width="3.5" height="3.5" fill="#EE2E7A"/>
<rect x="480.85" y="310.15" width="3.5" height="3.5" fill="#EE2E7A"/>
<rect x="480.85" y="317.15" width="3.5" height="3.5" fill="#EE2E7A"/>
<rect x="476.65" y="325.35" width="3.5" height="3.5" fill="#EE2E7A"/>
<rect x="484.65" y="324.15" width="3.5" height="3.5" fill="#EE2E7A"/>
<path d="M452.6 309V314.7M447.6 309H457.6M447.6 314.7H457.6" stroke="#111" stroke-width="1.0" fill="none" stroke-opacity="0.55"/>
<path d="M482.6 305.3V312.8M477.35 305.3H487.85M477.35 312.8H487.85" stroke="#EE2E7A" stroke-width="1.0" fill="none" stroke-opacity="0.6"/>
<polyline points="452.5,295.5 452.5,276.9 482.6,276.9 482.6,282.3" fill="none" stroke="#1c1c1c" stroke-width="1.1"/>
<text x="467.8" y="272.5" font-size="7" text-anchor="middle" fill="#111">0.5653</text>
<text x="418.6" y="381.8" font-size="11.55" text-anchor="start" fill="#111">Vehicle acclimation</text>
<text transform="translate(412.3,315.85) rotate(-90)" font-size="11.76" text-anchor="middle" fill="#111">Daily food intake (g)</text>
<text x="540.4" y="234.8" font-size="15" text-anchor="start" fill="#111" style="stroke-width:0">h</text>
<circle cx="593.8" cy="234.2" r="1.95" fill="#111"/>
<text x="603.6" y="238.1" font-size="11.8" text-anchor="start" fill="#111">WT</text>
<rect x="591.7" y="248.6" width="3.6" height="3.6" fill="#EE2E7A"/>
<text x="603.1" y="254.3" font-size="12" text-anchor="start" fill="#111">Pyk2 KO</text>
<line x1="591.5" y1="275.3" x2="591.5" y2="362.9" stroke="#444" stroke-width="1.15"/>
<line x1="589.6" y1="275.5" x2="591.5" y2="275.5" stroke="#444" stroke-width="1.15"/>
<text x="587.2" y="279.92" font-size="12" text-anchor="end" fill="#111">4</text>
<line x1="589.6" y1="297.5" x2="591.5" y2="297.5" stroke="#444" stroke-width="1.15"/>
<text x="587.2" y="301.52" font-size="12" text-anchor="end" fill="#111">3</text>
<line x1="589.6" y1="319.5" x2="591.5" y2="319.5" stroke="#444" stroke-width="1.15"/>
<text x="587.2" y="323.12" font-size="12" text-anchor="end" fill="#111">2</text>
<line x1="589.6" y1="340.5" x2="591.5" y2="340.5" stroke="#444" stroke-width="1.15"/>
<text x="587.2" y="344.72" font-size="12" text-anchor="end" fill="#111">1</text>
<line x1="589.6" y1="362.5" x2="591.5" y2="362.5" stroke="#444" stroke-width="1.15"/>
<text x="587.2" y="366.32" font-size="12" text-anchor="end" fill="#111">0</text>
<line x1="590.9" y1="362.5" x2="659.9" y2="362.5" stroke="#1c1c1c" stroke-width="1.2"/>
<path d="M601.5 362.5V314.5H620.5V362.5" fill="none" stroke="#111" stroke-width="1.2" stroke-linejoin="miter"/>
<path d="M630.5 362.5V307.5H650.5V362.5" fill="none" stroke="#F24C8C" stroke-width="1.2" stroke-linejoin="miter"/>
<circle cx="606.4" cy="309.7" r="1.75" fill="#111"/>
<circle cx="609.2" cy="308.1" r="1.75" fill="#111"/>
<circle cx="611.7" cy="307.8" r="1.75" fill="#111"/>
<circle cx="614.9" cy="307.7" r="1.75" fill="#111"/>
<circle cx="602.4" cy="314.5" r="1.75" fill="#111"/>
<circle cx="605.2" cy="315.3" r="1.75" fill="#111"/>
<circle cx="607.6" cy="315.3" r="1.75" fill="#111"/>
<circle cx="610.9" cy="315.3" r="1.75" fill="#111"/>
<circle cx="614.1" cy="315.7" r="1.75" fill="#111"/>
<circle cx="617.3" cy="315.3" r="1.75" fill="#111"/>
<circle cx="619.3" cy="315.5" r="1.75" fill="#111"/>
<circle cx="605.2" cy="317.7" r="1.75" fill="#111"/>
<circle cx="610.9" cy="317.7" r="1.75" fill="#111"/>
<circle cx="616.3" cy="320.4" r="1.75" fill="#111"/>
<rect x="630.7" y="298.7" width="3.4" height="3.4" fill="#EE2E7A"/>
<rect x="638.9" y="296.3" width="3.4" height="3.4" fill="#EE2E7A"/>
<rect x="647.1" y="296.3" width="3.4" height="3.4" fill="#EE2E7A"/>
<rect x="638.9" y="300.7" width="3.4" height="3.4" fill="#EE2E7A"/>
<rect x="647.1" y="300.7" width="3.4" height="3.4" fill="#EE2E7A"/>
<rect x="638.9" y="305.2" width="3.4" height="3.4" fill="#EE2E7A"/>
<rect x="634.9" y="312" width="3.4" height="3.4" fill="#EE2E7A"/>
<rect x="642.9" y="312" width="3.4" height="3.4" fill="#EE2E7A"/>
<rect x="634.9" y="316" width="3.4" height="3.4" fill="#EE2E7A"/>
<rect x="642.9" y="315.6" width="3.4" height="3.4" fill="#EE2E7A"/>
<path d="M611 312.2V314.4M607 312.2H615M607 314.4H615" stroke="#666" stroke-width="0.9" fill="none"/>
<path d="M640.6 304.5V309.3M635.6 304.5H645.6M635.6 309.3H645.6" stroke="#EE2E7A" stroke-width="1.0" fill="none"/>
<polyline points="610.3,302.7 610.3,288.1 640.6,288.1 640.6,293.4" fill="none" stroke="#1c1c1c" stroke-width="1.1"/>
<text x="625.6" y="283.3" font-size="7" text-anchor="middle" fill="#111">0.0148</text>
<text x="606.6" y="381.8" font-size="12.3" text-anchor="start" fill="#111">TubA</text>
<text transform="translate(569.2,315.4) rotate(-90)" font-size="12.87" text-anchor="middle" fill="#111">Daily food intake (g)</text>
<text x="14.2" y="472.6" font-size="15" text-anchor="start" fill="#111" style="stroke-width:0">i</text>
<circle cx="52" cy="482.7" r="1.95" fill="#111"/>
<text x="62" y="486.6" font-size="11.8" text-anchor="start" fill="#111">WT</text>
<rect x="52" y="497.9" width="3.6" height="3.6" fill="#EE2E7A"/>
<text x="63.2" y="503.3" font-size="11.8" text-anchor="start" fill="#111">Pyk2 KO</text>
<line x1="54.5" y1="527.52" x2="54.5" y2="615" stroke="#2a2a2a" stroke-width="1.2"/>
<line x1="52.8" y1="528.5" x2="54.5" y2="528.5" stroke="#2a2a2a" stroke-width="1.2"/>
<text x="50.5" y="532.14" font-size="12" text-anchor="end" fill="#111">40</text>
<line x1="52.8" y1="549.5" x2="54.5" y2="549.5" stroke="#2a2a2a" stroke-width="1.2"/>
<text x="50.5" y="553.71" font-size="12" text-anchor="end" fill="#111">30</text>
<line x1="52.8" y1="571.5" x2="54.5" y2="571.5" stroke="#2a2a2a" stroke-width="1.2"/>
<text x="50.5" y="575.28" font-size="12" text-anchor="end" fill="#111">20</text>
<line x1="52.8" y1="592.5" x2="54.5" y2="592.5" stroke="#2a2a2a" stroke-width="1.2"/>
<text x="50.5" y="596.85" font-size="12" text-anchor="end" fill="#111">10</text>
<line x1="52.8" y1="614.5" x2="54.5" y2="614.5" stroke="#2a2a2a" stroke-width="1.2"/>
<text x="50.5" y="618.42" font-size="12" text-anchor="end" fill="#111">0</text>
<line x1="53.9" y1="614.5" x2="123.5" y2="614.5" stroke="#1c1c1c" stroke-width="1.2"/>
<path d="M67.5 614.5V562.5H84.5V614.5" fill="none" stroke="#111" stroke-width="1.2" stroke-linejoin="miter"/>
<path d="M93.5 614.5V554.5H110.5V614.5" fill="none" stroke="#F24C8C" stroke-width="1.2" stroke-linejoin="miter"/>
<circle cx="73.2" cy="555.1" r="1.75" fill="#111"/>
<circle cx="76.1" cy="556.9" r="1.75" fill="#111"/>
<circle cx="78.5" cy="554.9" r="1.75" fill="#111"/>
<circle cx="80.6" cy="554.9" r="1.75" fill="#111"/>
<circle cx="68.8" cy="562.5" r="1.75" fill="#111"/>
<circle cx="70.8" cy="564.1" r="1.75" fill="#111"/>
<circle cx="73.2" cy="563.3" r="1.75" fill="#111"/>
<circle cx="78.1" cy="565.7" r="1.75" fill="#111"/>
<circle cx="80.5" cy="563.7" r="1.75" fill="#111"/>
<circle cx="82.9" cy="563.3" r="1.75" fill="#111"/>
<circle cx="71.2" cy="565.7" r="1.75" fill="#111"/>
<circle cx="73.6" cy="568.9" r="1.75" fill="#111"/>
<circle cx="76.1" cy="565.7" r="1.75" fill="#111"/>
<rect x="93.2" y="545.4" width="3.4" height="3.4" fill="#EE2E7A"/>
<rect x="100.2" y="542.7" width="3.4" height="3.4" fill="#EE2E7A"/>
<rect x="107.1" y="542.7" width="3.4" height="3.4" fill="#EE2E7A"/>
<rect x="100.2" y="546.3" width="3.4" height="3.4" fill="#EE2E7A"/>
<rect x="107.1" y="546.7" width="3.4" height="3.4" fill="#EE2E7A"/>
<rect x="100.2" y="550.8" width="3.4" height="3.4" fill="#EE2E7A"/>
<rect x="96.8" y="559.6" width="3.4" height="3.4" fill="#EE2E7A"/>
<rect x="103.7" y="559.2" width="3.4" height="3.4" fill="#EE2E7A"/>
<rect x="96.8" y="564" width="3.4" height="3.4" fill="#EE2E7A"/>
<rect x="103.7" y="563.6" width="3.4" height="3.4" fill="#EE2E7A"/>
<path d="M75.9 560.5V564.1M71.4 560.5H80.4M71.4 564.1H80.4" stroke="#111" stroke-width="0.9" fill="none"/>
<path d="M101.9 551.6V557.1M97.4 551.6H106.4M97.4 557.1H106.4" stroke="#EE2E7A" stroke-width="0.9" fill="none"/>
<polyline points="75.9,550 75.9,534.5 101.9,534.5 101.9,539.8" fill="none" stroke="#1c1c1c" stroke-width="1.1"/>
<text x="88.5" y="529.8" font-size="7" text-anchor="middle" fill="#111">0.0141</text>
<text x="70.8" y="635.1" font-size="12.0" text-anchor="start" fill="#111">TubA</text>
<text transform="translate(26.3,568.1) rotate(-90)" font-size="11.74" text-anchor="middle" fill="#111">Cumulative food intake (g)</text>
<text x="174.9" y="473.2" font-size="14.5" text-anchor="start" fill="#111" style="stroke-width:0">j</text>
<circle cx="226.5" cy="486.8" r="1.95" fill="#111"/>
<text x="236.8" y="491.3" font-size="11.8" text-anchor="start" fill="#111">WT</text>
<rect x="282.5" y="484.5" width="3.6" height="3.6" fill="#EE2E7A"/>
<text x="293.8" y="490.8" font-size="12" text-anchor="start" fill="#111">Pyk2 KO</text>
<line x1="228.5" y1="527.8" x2="228.5" y2="615.7" stroke="#1c1c1c" stroke-width="1.2"/>
<line x1="227" y1="528.5" x2="228.5" y2="528.5" stroke="#1c1c1c" stroke-width="1.2"/>
<text x="224.6" y="532.42" font-size="12" text-anchor="end" fill="#111">250</text>
<line x1="227" y1="545.5" x2="228.5" y2="545.5" stroke="#1c1c1c" stroke-width="1.2"/>
<text x="224.6" y="549.76" font-size="12" text-anchor="end" fill="#111">200</text>
<line x1="227" y1="563.5" x2="228.5" y2="563.5" stroke="#1c1c1c" stroke-width="1.2"/>
<text x="224.6" y="567.1" font-size="12" text-anchor="end" fill="#111">150</text>
<line x1="227" y1="580.5" x2="228.5" y2="580.5" stroke="#1c1c1c" stroke-width="1.2"/>
<text x="224.6" y="584.44" font-size="12" text-anchor="end" fill="#111">100</text>
<line x1="227" y1="597.5" x2="228.5" y2="597.5" stroke="#1c1c1c" stroke-width="1.2"/>
<text x="224.6" y="601.78" font-size="12" text-anchor="end" fill="#111">50</text>
<line x1="227" y1="615.5" x2="228.5" y2="615.5" stroke="#1c1c1c" stroke-width="1.2"/>
<text x="224.6" y="619.12" font-size="12" text-anchor="end" fill="#111">0</text>
<line x1="227.9" y1="615.5" x2="357.5" y2="615.5" stroke="#1c1c1c" stroke-width="1.2"/>
<line x1="248.5" y1="615.1" x2="248.5" y2="616.6" stroke="#1c1c1c" stroke-width="1.2"/>
<line x1="272.8" y1="615.1" x2="272.8" y2="616.6" stroke="#1c1c1c" stroke-width="1.2"/>
<line x1="313.8" y1="615.1" x2="313.8" y2="616.6" stroke="#1c1c1c" stroke-width="1.2"/>
<line x1="337.9" y1="615.1" x2="337.9" y2="616.6" stroke="#1c1c1c" stroke-width="1.2"/>
<path d="M240.5 615.5V558.5H256.5V615.5" fill="none" stroke="#111" stroke-width="1.2" stroke-linejoin="miter"/>
<path d="M265.5 615.5V573.5H280.5V615.5" fill="none" stroke="#111" stroke-width="1.2" stroke-linejoin="miter"/>
<path d="M305.5 615.5V560.5H321.5V615.5" fill="none" stroke="#F24C8C" stroke-width="1.2" stroke-linejoin="miter"/>
<path d="M330.5 615.5V570.5H345.5V615.5" fill="none" stroke="#F24C8C" stroke-width="1.2" stroke-linejoin="miter"/>
<circle cx="248.5" cy="546" r="1.9" fill="#111"/>
<circle cx="255.1" cy="549.6" r="1.9" fill="#111"/>
<circle cx="242.2" cy="552.4" r="1.9" fill="#111"/>
<circle cx="248.5" cy="552.4" r="1.9" fill="#111"/>
<circle cx="242.2" cy="556.5" r="1.9" fill="#111"/>
<circle cx="255.1" cy="556.9" r="1.9" fill="#111"/>
<circle cx="242.2" cy="560.9" r="1.9" fill="#111"/>
<circle cx="255.1" cy="561.5" r="1.9" fill="#111"/>
<circle cx="248.5" cy="564.1" r="1.9" fill="#111"/>
<circle cx="255.1" cy="565.5" r="1.9" fill="#111"/>
<circle cx="242.2" cy="568.5" r="1.9" fill="#111"/>
<circle cx="248.5" cy="558.9" r="1.9" fill="#111"/>
<circle cx="266.3" cy="568.1" r="1.9" fill="#111"/>
<circle cx="270.7" cy="568" r="1.9" fill="#111"/>
<circle cx="275.2" cy="566.9" r="1.9" fill="#111"/>
<circle cx="279.6" cy="566.5" r="1.9" fill="#111"/>
<circle cx="279.6" cy="570.9" r="1.9" fill="#111"/>
<circle cx="266.3" cy="572" r="1.9" fill="#111"/>
<circle cx="266.3" cy="575.3" r="1.9" fill="#111"/>
<circle cx="275.2" cy="573.7" r="1.9" fill="#111"/>
<circle cx="270.7" cy="577.3" r="1.9" fill="#111"/>
<circle cx="279.6" cy="578.2" r="1.9" fill="#111"/>
<circle cx="266.3" cy="580.2" r="1.9" fill="#111"/>
<circle cx="275.2" cy="579.4" r="1.9" fill="#111"/>
<rect x="305.5" y="556" width="3.4" height="3.4" fill="#EE2E7A"/>
<rect x="311.8" y="555.6" width="3.4" height="3.4" fill="#EE2E7A"/>
<rect x="318.4" y="552.8" width="3.4" height="3.4" fill="#EE2E7A"/>
<rect x="318.4" y="557.6" width="3.4" height="3.4" fill="#EE2E7A"/>
<rect x="305.5" y="561.6" width="3.4" height="3.4" fill="#EE2E7A"/>
<rect x="311.8" y="560.4" width="3.4" height="3.4" fill="#EE2E7A"/>
<rect x="318.4" y="562.4" width="3.4" height="3.4" fill="#EE2E7A"/>
<rect x="318.4" y="565.6" width="3.4" height="3.4" fill="#EE2E7A"/>
<rect x="311.8" y="564.4" width="3.4" height="3.4" fill="#EE2E7A"/>
<rect x="305.5" y="567.2" width="3.4" height="3.4" fill="#EE2E7A"/>
<rect x="336.1" y="561.6" width="3.4" height="3.4" fill="#EE2E7A"/>
<rect x="338.1" y="561.8" width="3.4" height="3.4" fill="#EE2E7A"/>
<rect x="331.6" y="567.6" width="3.4" height="3.4" fill="#EE2E7A"/>
<rect x="329.6" y="570.4" width="3.4" height="3.4" fill="#EE2E7A"/>
<rect x="336.9" y="569.6" width="3.4" height="3.4" fill="#EE2E7A"/>
<rect x="342.5" y="570" width="3.4" height="3.4" fill="#EE2E7A"/>
<rect x="332.8" y="571.2" width="3.4" height="3.4" fill="#EE2E7A"/>
<rect x="338.5" y="572" width="3.4" height="3.4" fill="#EE2E7A"/>
<rect x="342.1" y="572" width="3.4" height="3.4" fill="#EE2E7A"/>
<rect x="329.6" y="571.8" width="3.4" height="3.4" fill="#EE2E7A"/>
<rect x="334.8" y="565.3" width="3.4" height="3.4" fill="#EE2E7A"/>
<path d="M248.5 550.8V564.1M244.25 550.8H252.75M244.25 564.1H252.75" stroke="#111" stroke-width="1.0" fill="none"/>
<path d="M273 568.5V577.8M268.75 568.5H277.25M268.75 577.8H277.25" stroke="#111" stroke-width="1.0" fill="none"/>
<path d="M313.5 556.9V565.7M309.25 556.9H317.75M309.25 565.7H317.75" stroke="#EE2E7A" stroke-width="1.0" fill="none"/>
<path d="M338 566.5V574.5M333.75 566.5H342.25M333.75 574.5H342.25" stroke="#EE2E7A" stroke-width="1.0" fill="none"/>
<polyline points="248.5,541.6 248.5,536.1 272.6,536.1 272.6,561.7" fill="none" stroke="#1c1c1c" stroke-width="1.1"/>
<text x="260.6" y="531.6" font-size="7" text-anchor="middle" fill="#111">&lt;0.0001</text>
<polyline points="313.5,550 313.5,536.1 337.8,536.1 337.8,558.5" fill="none" stroke="#1c1c1c" stroke-width="1.1"/>
<text x="325.8" y="531.6" font-size="7" text-anchor="middle" fill="#111">0.0019</text>
<text transform="translate(251.4,626.9) rotate(-45)" font-size="11.9" text-anchor="end" fill="#111">pre-TubA</text>
<text transform="translate(275.7,626.9) rotate(-45)" font-size="11.9" text-anchor="end" fill="#111">post-TubA</text>
<text transform="translate(316.7,626.9) rotate(-45)" font-size="11.9" text-anchor="end" fill="#111">pre-TubA</text>
<text transform="translate(340.8,626.9) rotate(-45)" font-size="11.9" text-anchor="end" fill="#111">post-TubA</text>
<text transform="translate(197.5,567.4) rotate(-90)" font-size="11.7" text-anchor="middle" fill="#111">Blood glucose (mg/dL)</text>
<text x="384.4" y="473" font-size="15" text-anchor="start" fill="#111" style="stroke-width:0">k</text>
<circle cx="469.8" cy="483" r="1.95" fill="#111"/>
<text x="479.5" y="486.8" font-size="11.8" text-anchor="start" fill="#111">WT</text>
<circle cx="469.3" cy="499.5" r="1.95" fill="#EE2E7A"/>
<text x="479" y="503.7" font-size="11.9" text-anchor="start" fill="#111">Pyk2 KO</text>
<line x1="472.5" y1="527.4" x2="472.5" y2="615" stroke="#1c1c1c" stroke-width="1.2"/>
<line x1="469.4" y1="527.5" x2="472.5" y2="527.5" stroke="#1c1c1c" stroke-width="1.2"/>
<text x="467.2" y="532.02" font-size="12" text-anchor="end" fill="#111">100</text>
<line x1="469.4" y1="542.5" x2="472.5" y2="542.5" stroke="#1c1c1c" stroke-width="1.2"/>
<text x="467.2" y="546.42" font-size="12" text-anchor="end" fill="#111">80</text>
<line x1="469.4" y1="556.5" x2="472.5" y2="556.5" stroke="#1c1c1c" stroke-width="1.2"/>
<text x="467.2" y="560.82" font-size="12" text-anchor="end" fill="#111">60</text>
<line x1="469.4" y1="571.5" x2="472.5" y2="571.5" stroke="#1c1c1c" stroke-width="1.2"/>
<text x="467.2" y="575.22" font-size="12" text-anchor="end" fill="#111">40</text>
<line x1="469.4" y1="585.5" x2="472.5" y2="585.5" stroke="#1c1c1c" stroke-width="1.2"/>
<text x="467.2" y="589.62" font-size="12" text-anchor="end" fill="#111">20</text>
<line x1="469.4" y1="599.5" x2="472.5" y2="599.5" stroke="#1c1c1c" stroke-width="1.2"/>
<text x="467.2" y="604.02" font-size="12" text-anchor="end" fill="#111">0</text>
<line x1="469.4" y1="614.5" x2="472.5" y2="614.5" stroke="#1c1c1c" stroke-width="1.2"/>
<text x="467.2" y="618.42" font-size="12" text-anchor="end" fill="#111">-20</text>
<line x1="471" y1="600" x2="529.9" y2="600" stroke="#5a5a5a" stroke-width="1.4"/>
<line x1="471.9" y1="614.5" x2="529.9" y2="614.5" stroke="#1c1c1c" stroke-width="1.2"/>
<path d="M481.5 599.5V568.5H496.5V599.5" fill="none" stroke="#111" stroke-width="1.2" stroke-linejoin="miter"/>
<path d="M505.5 599.5V583.5H521.5V599.5" fill="none" stroke="#F24C8C" stroke-width="1.2" stroke-linejoin="miter"/>
<circle cx="488.7" cy="543.1" r="1.95" fill="#111"/>
<circle cx="488.7" cy="549.2" r="1.95" fill="#111"/>
<circle cx="488.7" cy="556" r="1.95" fill="#111"/>
<circle cx="488.7" cy="561.2" r="1.95" fill="#111"/>
<circle cx="486.7" cy="567.8" r="1.95" fill="#111"/>
<circle cx="492" cy="567.8" r="1.95" fill="#111"/>
<circle cx="482.6" cy="574.4" r="1.95" fill="#111"/>
<circle cx="486.7" cy="576.1" r="1.95" fill="#111"/>
<circle cx="491.1" cy="576.1" r="1.95" fill="#111"/>
<circle cx="495.7" cy="574.4" r="1.95" fill="#111"/>
<circle cx="488.7" cy="603" r="1.95" fill="#111"/>
<circle cx="490.5" cy="570.5" r="1.95" fill="#111"/>
<circle cx="513.4" cy="561.7" r="1.95" fill="#EE2E7A"/>
<circle cx="513.4" cy="567.8" r="1.95" fill="#EE2E7A"/>
<circle cx="509.3" cy="578.6" r="1.95" fill="#EE2E7A"/>
<circle cx="515.9" cy="578.6" r="1.95" fill="#EE2E7A"/>
<circle cx="507.6" cy="590.1" r="1.95" fill="#EE2E7A"/>
<circle cx="513.4" cy="587.3" r="1.95" fill="#EE2E7A"/>
<circle cx="520" cy="589.3" r="1.95" fill="#EE2E7A"/>
<circle cx="510.9" cy="594.2" r="1.95" fill="#EE2E7A"/>
<circle cx="516.2" cy="594.2" r="1.95" fill="#EE2E7A"/>
<path d="M488.9 563.2V573.6M484.9 563.2H492.9M484.9 573.6H492.9" stroke="#111" stroke-width="0.9" fill="none" stroke-opacity="0.6"/>
<path d="M513.5 580.2V586M509.5 580.2H517.5M509.5 586H517.5" stroke="#EE2E7A" stroke-width="0.9" fill="none" stroke-opacity="0.6"/>
<polyline points="488.7,538.1 488.7,532.4 513.4,532.4 513.4,557.1" fill="none" stroke="#1c1c1c" stroke-width="1.1"/>
<text x="501" y="528.2" font-size="7" text-anchor="middle" fill="#111">0.0171</text>
<text transform="translate(426.9,568.3) rotate(-90)" font-size="13.0" text-anchor="middle" fill="#111">TubA-induced decrease</text>
<text transform="translate(442.2,566.6) rotate(-90)" font-size="13.0" text-anchor="middle" fill="#111">in blood glucose (mg/dL)</text>
</svg>
</body></html>
